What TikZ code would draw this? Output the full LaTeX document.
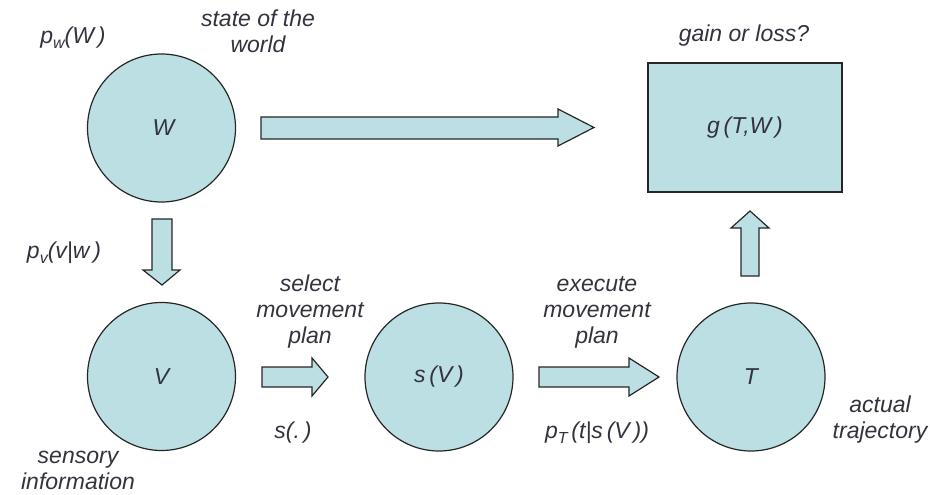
\documentclass[tikz,border=0pt]{standalone}
\usepackage{fontspec}
\setmainfont{Liberation Sans}
\definecolor{fillblue}{HTML}{BCDFE3}
\definecolor{txt}{HTML}{33333F}
\newcommand{\lowsub}[1]{\raisebox{-0.35ex}{\fontsize{16}{16}\selectfont #1}}
\begin{document}
\begin{tikzpicture}[x=1pt,y=-1pt,
  every node/.style={text=txt,font=\fontsize{23}{26}\selectfont\itshape,align=center},
  bubble/.style={circle,draw=black!85,line width=1.2pt,fill=fillblue,minimum size=148pt,inner sep=0pt},
  boxnode/.style={rectangle,draw=black!85,line width=1.2pt,fill=fillblue,minimum width=194pt,minimum height=129pt,inner sep=0pt},
  blockarrow/.style={draw=black!85,line width=1.2pt,fill=fillblue,line join=miter}]
\useasboundingbox (0,0) rectangle (930,495);

\node[bubble] (W) at (161.5,128) {$\,$W};
\node[bubble] (V) at (161.5,376.5) {V};
\node[bubble] (S) at (439,377) {s\,(V\,)};
\node[bubble] (T) at (751,377) {T};
\node[boxnode] (G) at (745,127.5) {g\,(T,W\,)};

% block arrows
\draw[blockarrow] (261,117) -- (558,117) -- (558,109) -- (594,127.5) -- (558,146) -- (558,139) -- (261,139) -- cycle;
\draw[blockarrow] (152,219) -- (172,219) -- (172,270) -- (180,270) -- (162,285) -- (143,270) -- (152,270) -- cycle;
\draw[blockarrow] (262,367) -- (312,367) -- (312,358) -- (328,377) -- (312,396) -- (312,387) -- (262,387) -- cycle;
\draw[blockarrow] (539,367) -- (629,367) -- (629,358) -- (659,377) -- (629,396) -- (629,387) -- (539,387) -- cycle;
\draw[blockarrow] (741,276) -- (741,228) -- (731,228) -- (750,211) -- (769,228) -- (759,228) -- (759,276) -- cycle;

% labels
\node (pw) at (73,38) {p\lowsub{w}(W\,)};
\node (sw) at (258,31) {state of the\\world};
\node (pv) at (64,253) {p\lowsub{v}(v|w\,)};
\node (si) at (78,470) {sensory\\information};
\node (sel) at (310,312) {select\\movement\\plan};
\node (sdot) at (293,433) {s(.\,)};
\node (exe) at (597,312) {execute\\movement\\plan};
\node (pt) at (597,433) {p\lowsub{T}\,(t|s\,(V\,))};
\node (gl) at (744,36) {gain or loss?};
\node (at) at (880,420) {actual\\trajectory};
\end{tikzpicture}
\end{document}
